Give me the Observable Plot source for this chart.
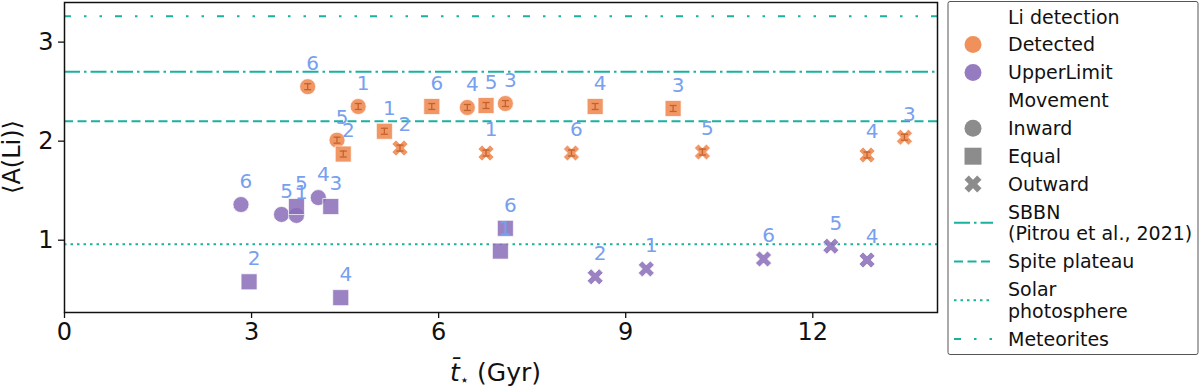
<!DOCTYPE html>
<html>
<head>
<meta charset="utf-8">
<script src="https://cdn.jsdelivr.net/npm/d3@7"></script>
<script src="https://cdn.jsdelivr.net/npm/@observablehq/plot@0.6"></script>
<style>
  html, body { margin: 0; padding: 0; background: #fff; }
  #chart { position: relative; width: 1200px; height: 390px; }
</style>
</head>
<body>
<div id="chart"></div>
<script>
// ---------- data ----------
const age = [3.90, 4.71, 4.37, 6.46, 7.07,
             4.47, 5.13, 5.89, 6.76, 8.51, 9.76,
             5.38, 6.76, 8.13, 10.23, 12.87, 13.47,
             2.83, 3.48, 3.72, 4.07,
             3.72, 4.27, 2.96, 4.43, 7.07, 6.99,
             8.51, 9.33, 11.21, 12.29, 12.87];
const meanLi = [2.55, 2.35, 2.01, 2.34, 2.38,
                1.87, 2.10, 2.35, 2.36, 2.35, 2.33,
                1.93, 1.88, 1.88, 1.89, 1.86, 2.04,
                1.36, 1.26, 1.25, 1.43,
                1.34, 1.34, 0.58, 0.42, 1.12, 0.89,
                0.63, 0.71, 0.81, 0.94, 0.80];
const binLabel = ["6","1","5","4","3",
                  "2","1","6","5","4","3",
                  "2","1","6","5","4","3",
                  "6","5","1","4",
                  "5","3","2","4","6","1",
                  "2","1","6","5","4"];
const detection = ["Detected","Detected","Detected","Detected","Detected",
                   "Detected","Detected","Detected","Detected","Detected","Detected",
                   "Detected","Detected","Detected","Detected","Detected","Detected",
                   "UpperLimit","UpperLimit","UpperLimit","UpperLimit",
                   "UpperLimit","UpperLimit","UpperLimit","UpperLimit","UpperLimit","UpperLimit",
                   "UpperLimit","UpperLimit","UpperLimit","UpperLimit","UpperLimit"];
const movement = ["Inward","Inward","Inward","Inward","Inward",
                  "Equal","Equal","Equal","Equal","Equal","Equal",
                  "Outward","Outward","Outward","Outward","Outward","Outward",
                  "Inward","Inward","Inward","Inward",
                  "Equal","Equal","Equal","Equal","Equal","Equal",
                  "Outward","Outward","Outward","Outward","Outward"];
const liErr = [0.03,0.03,0.03,0.03,0.03,
               0.03,0.03,0.03,0.03,0.03,0.03,
               0.03,0.03,0.03,0.03,0.03,0.03,
               0,0,0,0, 0,0,0,0,0,0, 0,0,0,0,0];

const detectionCats = ["Detected", "UpperLimit"];
const movementCats = ["Inward", "Equal", "Outward"];
const refNames = [["SBBN", "(Pitrou et al., 2021)"], ["Spite plateau"], ["Solar", "photosphere"], ["Meteorites"]];
const refValues = [2.70, 2.20, 0.96, 3.26];
const xTicks = [0, 3, 6, 9, 12];
const yTicks = [1, 2, 3];

// ---------- styles ----------
const detColors = ["#ee854a", "#8a6db8"];
const teal = "#1ab1a0";
const refDash = ["16,4,2.5,4", "9,4.5", "2.5,4", "7,13,2.5,13,2.5,13"];
const labelColor = "#77a0ef";
const errColor = "#c4622b";
const FONT = "DejaVu Sans, Noto Sans, sans-serif";

// custom symbols
const squareSym = {draw(ctx, size) { const r = Math.sqrt(size / Math.PI); ctx.moveTo(-r, -r); ctx.lineTo(r, -r); ctx.lineTo(r, r); ctx.lineTo(-r, r); ctx.closePath(); }};
const xSym = {draw(ctx, size) {
  const s = 2 * Math.sqrt(size / Math.PI);
  const p = [[-1,-2],[0,-1],[1,-2],[2,-1],[1,0],[2,1],[1,2],[0,1],[-1,2],[-2,1],[-1,0],[-2,-1]];
  p.forEach(([a, b], i) => { const X = a / 4 * s, Y = b / 4 * s; if (i === 0) ctx.moveTo(X, Y); else ctx.lineTo(X, Y); });
  ctx.closePath();
}};
const capSym = {draw(ctx, size) { const r = Math.sqrt(size / Math.PI); ctx.moveTo(-r, 0); ctx.lineTo(r, 0); }};
const symOf = {Inward: d3.symbolCircle, Equal: squareSym, Outward: xSym};

const rows = age.map((a, i) => ({age: a, li: meanLi[i], bin: binLabel[i], det: detection[i], mov: movement[i], err: liErr[i]}));
const errRows = rows.filter(d => d.err > 0);

const marks = [];
refValues.forEach((v, i) => marks.push(Plot.ruleY([v], {stroke: teal, strokeWidth: 2, strokeDasharray: refDash[i]})));
movementCats.forEach(m => {
  marks.push(Plot.dot(rows.filter(d => d.mov === m), {
    x: "age", y: "li", fill: "det", r: 8, symbol: symOf[m],
    fillOpacity: 0.85, stroke: "white", strokeWidth: 0.7
  }));
});
marks.push(Plot.ruleX(errRows, {x: "age", y1: d => d.li - d.err, y2: d => d.li + d.err, stroke: errColor, strokeWidth: 1.3}));
marks.push(Plot.dot(errRows, {x: "age", y: d => d.li - d.err, r: 3.5, symbol: capSym, fill: "none", stroke: errColor, strokeWidth: 1.3}));
marks.push(Plot.dot(errRows, {x: "age", y: d => d.li + d.err, r: 3.5, symbol: capSym, fill: "none", stroke: errColor, strokeWidth: 1.3}));
marks.push(Plot.text(rows, {x: "age", y: "li", text: "bin", dx: 5, dy: -23, fill: labelColor, fontSize: 20}));
marks.push(Plot.frame({stroke: "#111", strokeWidth: 1.5}));

const W = 1200, H = 390, ML = 64, MR = 263, MT = 2, MB = 78;
const svg = Plot.plot({
  width: W, height: H,
  marginLeft: ML, marginRight: MR, marginTop: MT, marginBottom: MB,
  style: {fontFamily: FONT, fontSize: "24px", color: "#111", background: "white", overflow: "visible"},
  x: {domain: [0, 14], ticks: xTicks, tickSize: 6, tickPadding: 4, label: null, tickFormat: d => String(d)},
  y: {domain: [0.27, 3.40], ticks: yTicks, tickSize: 6, tickPadding: 5, label: null, tickFormat: d => String(d)},
  color: {domain: detectionCats, range: detColors},
  marks
});
document.getElementById("chart").appendChild(svg);

const s = d3.select(svg);
s.selectAll("[aria-label$='tick'] path, [aria-label$='tick'] line").attr("stroke-width", 1.3);

// axis labels
const xl = s.append("text")
  .attr("x", (ML + (W - MR)) / 2 - 5).attr("y", 381)
  .attr("text-anchor", "middle").attr("font-family", FONT).attr("font-size", 25).attr("fill", "#111");
xl.append("tspan").attr("font-style", "italic").text("t\u0304");
xl.append("tspan").attr("font-size", 15).attr("dy", 4).text("\u22C6");
xl.append("tspan").attr("dy", -4).text(" (Gyr)");

s.append("text")
  .attr("transform", `translate(20,${(MT + (H - MB)) / 2}) rotate(-90)`)
  .attr("text-anchor", "middle").attr("font-family", FONT).attr("font-size", 24).attr("fill", "#111")
  .text("\u27E8A(Li)\u27E9");

// legend
const lg = s.append("g").attr("font-family", FONT).attr("font-size", 19).attr("fill", "#111").attr("text-anchor", "start");
lg.append("rect").attr("x", 948).attr("y", 1.5).attr("width", 250).attr("height", 353)
  .attr("rx", 2).attr("fill", "white").attr("stroke", "#555").attr("stroke-width", 1);
const textX = 1008, markX = 973, lineX1 = 954, lineX2 = 993;
const step = 27.9, extra = 21.6;
let yy = 16.7;
const items = [];
items.push({kind: "title", lines: ["Li detection"]});
detectionCats.forEach((c, i) => items.push({kind: "dot", lines: [c], color: detColors[i], sym: d3.symbolCircle}));
items.push({kind: "title", lines: ["Movement"]});
movementCats.forEach(m => items.push({kind: "dot", lines: [m], color: "#808080", sym: symOf[m]}));
refNames.forEach((n, i) => items.push({kind: "line", lines: n, dash: refDash[i]}));
items.forEach(it => {
  const n = it.lines.length;
  const mid = yy + (n - 1) * extra / 2;
  if (it.kind === "dot") {
    lg.append("path").attr("transform", `translate(${markX},${mid})`)
      .attr("d", d3.symbol(it.sym, Math.PI * 72)()).attr("fill", it.color).attr("fill-opacity", 0.9);
  } else if (it.kind === "line") {
    lg.append("line").attr("x1", lineX1).attr("x2", lineX2).attr("y1", mid).attr("y2", mid)
      .attr("stroke", teal).attr("stroke-width", 2).attr("stroke-dasharray", it.dash);
  }
  it.lines.forEach((t, k) => {
    lg.append("text").attr("x", textX).attr("y", yy + k * extra).attr("dy", "0.36em").text(t);
  });
  yy += step + (n - 1) * extra;
});
</script>
</body>
</html>
